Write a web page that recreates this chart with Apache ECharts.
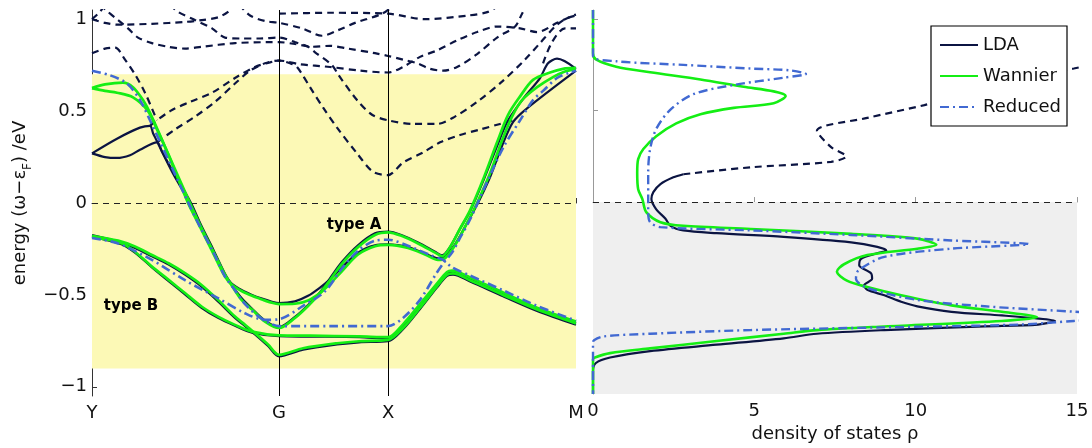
<!DOCTYPE html>
<html>
<head>
<meta charset="utf-8">
<script src="https://cdn.jsdelivr.net/npm/echarts@6/dist/echarts.min.js"></script>
<style>
  html, body { margin: 0; padding: 0; background: #fff; }
  #chart { width: 1092px; height: 448px; }
</style>
</head>
<body>
<div id="chart"></div>
<script>
// ---- k-path (high-symmetry points) ----
const kPoints = [0, 1.716, 2.716, 4.44];
const kLabels = ['Y', 'G', 'X', 'M'];
const energyTicks = [-1, -0.5, 0, 0.5, 1];
const energyWindow = [-0.9, 0.7];   // disentanglement window (eV)

// ---- band structure: LDA bands inside the window [k, E] ----
const ldaBand1 = [[0,0.27],[0.229,0.35],[0.44,0.41],[0.532,0.42],[0.56,0.38],[0.743,0.16],[0.899,0],[1.0,-0.125],[1.11,-0.255],[1.22,-0.395],[1.284,-0.44],[1.376,-0.475],[1.468,-0.5],[1.56,-0.52],[1.651,-0.537],[1.716,-0.545],[1.862,-0.535],[1.982,-0.505],[2.092,-0.46],[2.183,-0.415],[2.294,-0.35],[2.44,-0.27],[2.596,-0.23],[2.716,-0.225],[2.899,-0.24],[3.055,-0.275],[3.174,-0.3],[3.239,-0.29],[3.33,-0.225],[3.422,-0.13],[3.532,-0.01],[3.651,0.14],[3.761,0.31],[3.862,0.44],[3.991,0.515],[4.44,0.72]];
const ldaBand2 = [[0,0.27],[0.119,0.25],[0.229,0.245],[0.349,0.26],[0.44,0.29],[0.596,0.33],[0.642,0.28],[0.716,0.2],[0.908,0],[1.0,-0.12],[1.11,-0.25],[1.22,-0.385],[1.294,-0.455],[1.376,-0.52],[1.468,-0.575],[1.587,-0.64],[1.716,-0.675],[1.862,-0.62],[1.982,-0.555],[2.092,-0.485],[2.183,-0.41],[2.294,-0.32],[2.44,-0.23],[2.596,-0.165],[2.716,-0.155],[2.844,-0.175],[2.991,-0.215],[3.147,-0.265],[3.211,-0.285],[3.284,-0.24],[3.376,-0.14],[3.468,-0.045],[3.596,0.13],[3.716,0.31],[3.817,0.45],[3.972,0.58],[4.11,0.68],[4.183,0.76],[4.266,0.785],[4.44,0.73]];
const ldaBand3 = [[0,-0.175],[0.239,-0.21],[0.394,-0.245],[0.55,-0.29],[0.703,-0.335],[0.853,-0.39],[1.005,-0.455],[1.156,-0.535],[1.312,-0.625],[1.404,-0.67],[1.495,-0.715],[1.615,-0.778],[1.716,-0.834],[1.936,-0.798],[2.248,-0.77],[2.45,-0.758],[2.716,-0.752],[2.853,-0.687],[3.009,-0.577],[3.162,-0.462],[3.257,-0.397],[3.312,-0.39],[3.468,-0.427],[3.771,-0.507],[4.083,-0.587],[4.44,-0.662]];
const ldaBand4 = [[0,-0.185],[0.275,-0.225],[0.394,-0.27],[0.55,-0.35],[0.703,-0.425],[0.853,-0.497],[1.005,-0.57],[1.156,-0.625],[1.312,-0.668],[1.468,-0.705],[1.716,-0.725],[2.0,-0.727],[2.45,-0.73],[2.716,-0.737],[2.853,-0.667],[3.009,-0.557],[3.162,-0.447],[3.257,-0.382],[3.303,-0.375],[3.468,-0.412],[3.771,-0.494],[4.083,-0.577],[4.44,-0.652]];

// ---- LDA bands outside the window (dashed) ----
const ldaOuter1 = [[0,1.0],[0.073,1.04],[0.12,1.08]];
const ldaOuter2 = [[0,1.0],[0.119,0.98],[0.239,0.97],[0.55,0.975],[0.853,0.985],[1.009,0.995],[1.156,1.01],[1.248,1.04],[1.312,1.08]];
const ldaOuter3 = [[0.073,1.08],[0.147,1.04],[0.239,0.995],[0.33,0.95],[0.422,0.9],[0.55,0.87],[0.697,0.85],[0.853,0.84],[1.009,0.85],[1.312,0.87],[1.651,0.875],[1.716,0.875],[1.862,0.865],[2.018,0.85],[2.183,0.855],[2.349,0.84],[2.596,0.815],[2.716,0.8],[2.853,0.78],[2.982,0.76],[3.101,0.73],[3.22,0.72],[3.349,0.74],[3.532,0.81],[3.716,0.9],[3.881,0.96],[3.945,1.03],[3.99,1.08]];
const ldaOuter4 = [[0.716,1.08],[0.789,1.04],[0.945,0.995],[1.101,0.95],[1.22,0.9],[1.358,0.895],[1.541,0.895],[1.716,0.9],[1.862,0.875],[1.982,0.85],[2.046,0.82],[2.202,0.75],[2.257,0.7],[2.431,0.56],[2.569,0.48],[2.716,0.45],[2.945,0.43],[3.165,0.43],[3.33,0.47],[3.532,0.55],[3.761,0.66],[3.972,0.78],[4.11,0.87],[4.248,0.96],[4.339,1.0],[4.44,1.02]];
const ldaOuter5 = [[0,0.815],[0.119,0.84],[0.211,0.845],[0.303,0.78],[0.394,0.7],[0.486,0.6],[0.56,0.5],[0.596,0.45]];
const ldaOuter6 = [[0.532,0.42],[0.716,0.5],[0.899,0.55],[1.101,0.6],[1.312,0.68],[1.495,0.74],[1.633,0.765],[1.716,0.775],[1.908,0.755],[2.183,0.74],[2.459,0.72],[2.716,0.71],[2.853,0.74],[3.009,0.795],[3.165,0.83],[3.349,0.885],[3.532,0.93],[3.716,0.96],[3.927,0.95],[4.083,0.93],[4.266,0.98],[4.413,1.02],[4.44,1.025]];
const ldaOuter7 = [[0.596,0.33],[0.761,0.4],[0.945,0.47],[1.128,0.55],[1.312,0.65],[1.45,0.72],[1.587,0.76],[1.716,0.775],[1.817,0.76],[1.881,0.74],[2.0,0.63],[2.119,0.52],[2.248,0.41],[2.431,0.27],[2.578,0.17],[2.716,0.152],[2.853,0.22],[3.037,0.275],[3.193,0.33],[3.376,0.37],[3.56,0.4],[3.743,0.43],[3.807,0.44],[3.862,0.45]];
const ldaOuter8 = [[1.716,1.03],[2.183,1.035],[2.716,1.03],[3.055,1.0],[3.45,1.02],[3.633,1.04],[3.743,1.08]];
const ldaOuter9 = [[1.35,1.08],[1.45,1.02],[1.587,0.99],[1.716,0.98],[1.927,0.95],[2.11,0.91],[2.257,0.94],[2.413,0.98],[2.661,1.03],[2.78,1.08]];
const ldaOuter10 = [[4.138,0.76],[4.22,0.875],[4.339,0.95],[4.44,0.95]];

// ---- Wannier-interpolated bands ----
const wannierBand1 = [[0,0.625],[0.119,0.645],[0.284,0.655],[0.376,0.63],[0.468,0.56],[0.532,0.49],[0.688,0.28],[0.881,0],[0.991,-0.13],[1.101,-0.26],[1.22,-0.4],[1.284,-0.445],[1.376,-0.48],[1.468,-0.505],[1.56,-0.525],[1.651,-0.543],[1.716,-0.55],[1.862,-0.548],[1.982,-0.53],[2.092,-0.49],[2.183,-0.44],[2.294,-0.37],[2.44,-0.28],[2.596,-0.235],[2.716,-0.228],[2.899,-0.245],[3.055,-0.28],[3.174,-0.31],[3.239,-0.3],[3.33,-0.23],[3.422,-0.13],[3.532,0],[3.651,0.16],[3.761,0.34],[3.853,0.47],[3.945,0.56],[4.083,0.63],[4.229,0.685],[4.339,0.715],[4.44,0.73]];
const wannierBand2 = [[0,0.625],[0.119,0.61],[0.229,0.6],[0.376,0.575],[0.514,0.5],[0.596,0.4],[0.697,0.27],[0.899,0],[1.0,-0.13],[1.11,-0.26],[1.22,-0.39],[1.294,-0.46],[1.376,-0.53],[1.468,-0.58],[1.587,-0.645],[1.716,-0.68],[1.862,-0.625],[1.982,-0.56],[2.092,-0.49],[2.183,-0.42],[2.294,-0.33],[2.44,-0.24],[2.596,-0.174],[2.716,-0.16],[2.844,-0.18],[2.991,-0.22],[3.147,-0.27],[3.211,-0.29],[3.284,-0.24],[3.376,-0.14],[3.468,-0.04],[3.596,0.14],[3.716,0.33],[3.817,0.48],[3.927,0.58],[4.046,0.67],[4.202,0.71],[4.321,0.73],[4.44,0.735]];
const wannierBand3 = [[0,-0.178],[0.239,-0.205],[0.394,-0.237],[0.55,-0.283],[0.703,-0.328],[0.853,-0.382],[1.005,-0.446],[1.156,-0.527],[1.312,-0.618],[1.404,-0.663],[1.495,-0.708],[1.615,-0.77],[1.716,-0.826],[1.936,-0.79],[2.248,-0.763],[2.45,-0.752],[2.716,-0.745],[2.853,-0.68],[3.009,-0.57],[3.162,-0.455],[3.257,-0.39],[3.312,-0.383],[3.468,-0.42],[3.771,-0.5],[4.083,-0.58],[4.44,-0.655]];
const wannierBand4 = [[0,-0.185],[0.275,-0.22],[0.394,-0.265],[0.55,-0.346],[0.703,-0.418],[0.853,-0.49],[1.005,-0.563],[1.156,-0.618],[1.312,-0.663],[1.468,-0.7],[1.716,-0.72],[2.0,-0.722],[2.45,-0.726],[2.716,-0.73],[2.853,-0.66],[3.009,-0.55],[3.162,-0.44],[3.257,-0.375],[3.303,-0.368],[3.468,-0.405],[3.771,-0.487],[4.083,-0.57],[4.44,-0.645]];

// ---- reduced (two-band) model ----
const reducedBand1 = [[0,0.72],[0.165,0.695],[0.321,0.65],[0.44,0.56],[0.532,0.45],[0.688,0.25],[0.872,0.016],[0.991,-0.13],[1.11,-0.265],[1.22,-0.4],[1.294,-0.46],[1.404,-0.55],[1.523,-0.615],[1.633,-0.655],[1.716,-0.67],[2.2,-0.67],[2.716,-0.67],[2.853,-0.625],[3.009,-0.527],[3.162,-0.38],[3.22,-0.33],[3.303,-0.27],[3.376,-0.19],[3.468,-0.09],[3.621,0.11],[3.771,0.3],[3.927,0.45],[4.046,0.56],[4.138,0.61],[4.266,0.68],[4.385,0.71],[4.44,0.72]];
const reducedBand2 = [[0,-0.19],[0.239,-0.22],[0.55,-0.31],[0.853,-0.42],[1.156,-0.518],[1.404,-0.6],[1.587,-0.636],[1.716,-0.632],[1.936,-0.56],[2.138,-0.48],[2.294,-0.355],[2.44,-0.26],[2.596,-0.205],[2.716,-0.2],[2.917,-0.237],[3.101,-0.283],[3.22,-0.31],[3.303,-0.35],[3.468,-0.395],[3.771,-0.475],[4.083,-0.56],[4.44,-0.64]];

// ---- density of states [rho, E] ----
const dosLda = [[2.8,0.152],[2.49,0.135],[2.09,0.098],[1.87,0.054],[1.81,0.016],[1.96,-0.04],[2.24,-0.09],[2.4,-0.13],[2.8,-0.155],[3.83,-0.17],[5.91,-0.19],[8.0,-0.22],[8.81,-0.245],[9.09,-0.265],[8.81,-0.28],[8.31,-0.31],[8.25,-0.345],[8.62,-0.39],[8.65,-0.42],[8.4,-0.455],[8.5,-0.48],[9.03,-0.51],[9.55,-0.545],[10.05,-0.57],[11.11,-0.6],[12.67,-0.62],[13.69,-0.635],[14.32,-0.65],[13.79,-0.67],[12.14,-0.68],[9.03,-0.7],[6.94,-0.72],[5.91,-0.745],[3.83,-0.78],[1.77,-0.815],[0.53,-0.85],[0.09,-0.88],[0,-0.925],[0,-1.05]];
const dosLdaOuter = [[2.8,0.152],[4.89,0.19],[7.38,0.22],[7.85,0.25],[7.38,0.3],[6.94,0.39],[8.5,0.46],[10.27,0.53],[12.4,0.625],[14.6,0.72],[14.9,0.73],[15.6,0.755]];
const dosWannier = [[0,1.05],[0,0.815],[0.09,0.78],[0.72,0.74],[1.77,0.71],[3.33,0.67],[4.67,0.63],[5.6,0.605],[5.97,0.58],[5.6,0.54],[4.36,0.515],[3.33,0.48],[2.58,0.43],[1.96,0.36],[1.56,0.29],[1.4,0.235],[1.37,0.16],[1.4,0.07],[1.53,0.016],[1.65,-0.055],[2.09,-0.11],[2.8,-0.13],[4.89,-0.147],[8.0,-0.174],[10.05,-0.2],[10.64,-0.234],[10.05,-0.255],[8.5,-0.29],[7.78,-0.34],[7.56,-0.38],[7.87,-0.43],[8.5,-0.465],[9.55,-0.51],[11.11,-0.565],[12.67,-0.6],[13.76,-0.63],[12.67,-0.65],[9.03,-0.68],[6.94,-0.7],[5.91,-0.72],[3.83,-0.76],[1.77,-0.8],[0.53,-0.826],[0.06,-0.85],[0,-0.86],[0,-1.05]];
const dosReduced = [[0,1.05],[0,0.8],[0.72,0.77],[2.8,0.75],[4.89,0.73],[6.1,0.72],[6.6,0.7],[5.91,0.68],[4.36,0.64],[3.11,0.59],[2.4,0.505],[1.96,0.4],[1.77,0.29],[1.71,0.16],[1.71,0.016],[1.71,-0.055],[1.77,-0.11],[2.09,-0.137],[4.89,-0.155],[8.0,-0.18],[11.11,-0.21],[13.5,-0.23],[11.11,-0.255],[9.03,-0.3],[8.22,-0.375],[8.15,-0.42],[8.5,-0.47],[10.05,-0.535],[12.14,-0.57],[14.95,-0.6],[17,-0.625],[14.9,-0.65],[13.2,-0.67],[9.03,-0.685],[4.89,-0.7],[1.77,-0.72],[0.31,-0.735],[0.03,-0.755],[0,-0.77],[0,-1.05]];

// ---- text annotations [label, k, E] ----
const notes = [['type A', 2.404, -0.12], ['type B', 0.358, -0.56]];

// ---- styling ----
const FONT = 'DejaVu Sans';
const C_LDA = '#0b1442';
const C_WAN = '#14ee14';
const C_RED = '#4169d2';
const DASH = [7, 5];
const DASHDOT = [9, 4, 2, 4];
const E_MIN = -1.05, E_MAX = 1.05;

function curve(name, data, color, width, dash, z, axis) {
  return {
    type: 'line', name: name, data: data,
    xAxisIndex: axis, yAxisIndex: axis,
    symbol: 'none', showSymbol: false, smooth: 0.3, clip: true,
    silent: true, z: z, animation: false,
    lineStyle: { color: color, width: width, type: dash || 'solid', cap: 'butt' },
    itemStyle: { color: color },
    emphasis: { disabled: true }
  };
}

const series = [];

// background: energy window, Fermi level, high-symmetry lines
series.push({
  type: 'line', data: [], xAxisIndex: 0, yAxisIndex: 0, z: 1, silent: true,
  markArea: { silent: true, itemStyle: { color: '#fcf9b6' },
    data: [[{ yAxis: energyWindow[0] }, { yAxis: energyWindow[1] }]] }
});
series.push({
  type: 'line', data: [], xAxisIndex: 1, yAxisIndex: 1, z: 1, silent: true,
  markArea: { silent: true, itemStyle: { color: '#efefef' },
    data: [[{ yAxis: E_MIN }, { yAxis: 0 }]] }
});
series.push({
  type: 'line', data: [], xAxisIndex: 0, yAxisIndex: 0, z: 2, silent: true,
  markLine: { silent: true, symbol: 'none', animation: false, label: { show: false },
    data: [
      { xAxis: kPoints[1], lineStyle: { color: '#000', width: 1, type: 'solid' } },
      { xAxis: kPoints[2], lineStyle: { color: '#000', width: 1, type: 'solid' } },
      { yAxis: 0, lineStyle: { color: '#222', width: 1, type: [6, 5] } }
    ] }
});
series.push({
  type: 'line', data: [], xAxisIndex: 1, yAxisIndex: 1, z: 2, silent: true,
  markLine: { silent: true, symbol: 'none', animation: false, label: { show: false },
    data: [{ yAxis: 0, lineStyle: { color: '#222', width: 1, type: [6, 5] } }] }
});

// band structure
[ldaBand1, ldaBand2, ldaBand3, ldaBand4].forEach(d => series.push(curve('LDA', d, C_LDA, 2.2, 'solid', 4, 0)));
[ldaOuter1, ldaOuter2, ldaOuter3, ldaOuter4, ldaOuter5, ldaOuter6, ldaOuter7, ldaOuter8, ldaOuter9, ldaOuter10]
  .forEach(d => series.push(curve('LDA outer', d, C_LDA, 2.2, DASH, 3, 0)));
[wannierBand1, wannierBand2, wannierBand3, wannierBand4].forEach(d => series.push(curve('Wannier', d, C_WAN, 2.7, 'solid', 5, 0)));
[reducedBand1, reducedBand2].forEach(d => series.push(curve('Reduced', d, C_RED, 2.6, DASHDOT, 6, 0)));

// density of states
series.push(curve('LDA', dosLda, C_LDA, 2.2, 'solid', 4, 1));
series.push(curve('LDA outer', dosLdaOuter, C_LDA, 2.2, DASH, 3, 1));
series.push(curve('Wannier', dosWannier, C_WAN, 2.6, 'solid', 5, 1));
series.push(curve('Reduced', dosReduced, C_RED, 2.4, DASHDOT, 6, 1));

// annotations
series.push({
  type: 'scatter', xAxisIndex: 0, yAxisIndex: 0, z: 7, silent: true,
  symbol: 'circle', symbolSize: 0, itemStyle: { color: '#111', opacity: 1 },
  data: notes.map(n => ({ value: [n[1], n[2]], name: n[0] })),
  label: { show: true, position: 'inside', formatter: p => p.name, opacity: 1,
    fontFamily: FONT, fontWeight: 'bold', fontSize: 15, color: '#000' }
});

const minus = v => String(v).replace('-', '\u2212');
const axisText = { fontFamily: FONT, fontSize: 18, color: '#111' };

const option = {
  animation: false,
  textStyle: { fontFamily: FONT },
  grid: [
    { left: 92, top: 10, width: 484, height: 386 },
    { left: 593, top: 10, width: 484, height: 386 }
  ],
  legend: {
    data: ['LDA', 'Wannier', 'Reduced'],
    orient: 'vertical', left: 931, top: 26,
    padding: [10, 6, 10, 8], itemGap: 13, itemWidth: 38, itemHeight: 14,
    backgroundColor: '#fff', borderColor: '#000', borderWidth: 1.2, borderRadius: 0,
    itemStyle: { color: 'rgba(0,0,0,0)', borderWidth: 0, opacity: 0 },
    textStyle: { fontFamily: FONT, fontSize: 18, color: '#111' },
    selectedMode: false
  },
  xAxis: [
    {
      type: 'value', gridIndex: 0, min: kPoints[0], max: kPoints[3],
      axisLine: { lineStyle: { color: '#333', width: 1 } },
      axisTick: { inside: true, length: 5, customValues: kPoints, lineStyle: { color: '#333' } },
      axisLabel: Object.assign({ margin: 8, customValues: kPoints,
        formatter: v => {
          let best = 0;
          kPoints.forEach((k, i) => { if (Math.abs(k - v) < Math.abs(kPoints[best] - v)) best = i; });
          return kLabels[best];
        } }, axisText),
      splitLine: { show: false }
    },
    {
      type: 'value', gridIndex: 1, min: 0, max: 15, interval: 5,
      name: 'density of states \u03c1', nameLocation: 'middle', nameGap: 26,
      nameTextStyle: axisText,
      axisLine: { lineStyle: { color: '#999', width: 1 } },
      axisTick: { inside: true, length: 5, lineStyle: { color: '#999' } },
      axisLabel: Object.assign({ margin: 8 }, axisText),
      splitLine: { show: false }
    }
  ],
  yAxis: [
    {
      type: 'value', gridIndex: 0, min: E_MIN, max: E_MAX,
      name: 'energy (\u03c9\u2212\u03b5{s|F}) /eV', nameLocation: 'middle', nameGap: 58, nameRotate: 90,
      nameTextStyle: Object.assign({ rich: { s: { fontFamily: FONT, fontSize: 12, color: '#111', verticalAlign: 'bottom', lineHeight: 28 } } }, axisText),
      axisLine: { lineStyle: { color: '#333', width: 1 } },
      axisTick: { inside: true, length: 5, customValues: energyTicks, lineStyle: { color: '#333' } },
      axisLabel: Object.assign({ margin: 5, customValues: energyTicks, formatter: minus }, axisText),
      splitLine: { show: false }
    },
    {
      type: 'value', gridIndex: 1, min: E_MIN, max: E_MAX,
      axisLine: { lineStyle: { color: '#999', width: 1 } },
      axisTick: { inside: true, length: 5, customValues: energyTicks, lineStyle: { color: '#999' } },
      axisLabel: { show: false },
      splitLine: { show: false }
    }
  ],
  series: series
};

const chart = echarts.init(document.getElementById('chart'));
chart.setOption(option);
</script>
</body>
</html>
